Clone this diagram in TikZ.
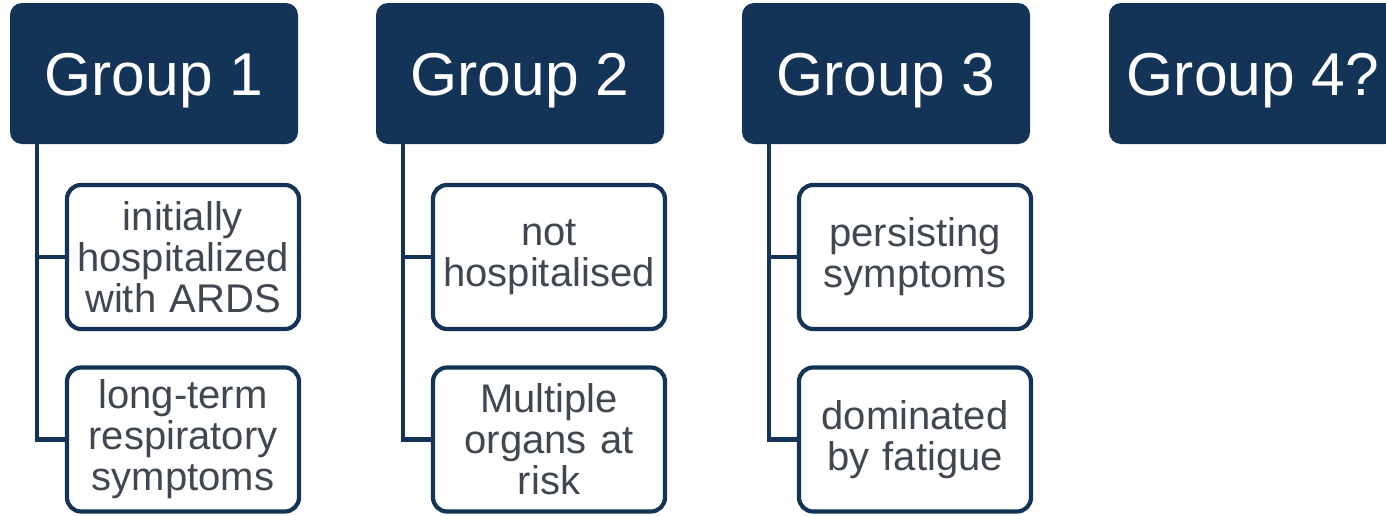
\documentclass[tikz,border=0pt]{standalone}
\usepackage{fontspec}
\setmainfont{Liberation Sans}
\definecolor{navy}{HTML}{143457}
\definecolor{txtgray}{HTML}{40474F}
\begin{document}
\begin{tikzpicture}[x=1pt,y=-1pt,
  header/.style={fill=navy,draw=none,rounded corners=12pt,minimum width=288pt,minimum height=141pt,
    text=white,font=\fontsize{60.5}{72}\selectfont,inner sep=0pt,text height=43pt,text depth=0pt},
  child/.style={draw=navy,line width=4.2pt,fill=white,rounded corners=14pt,minimum width=232pt,minimum height=144pt,
    text=txtgray,font=\fontsize{40}{41}\selectfont,align=center,inner sep=0pt,text width=230pt},
  conn/.style={draw=navy,line width=4.5pt}]
\clip (0,0) rectangle (1386,515);
\fill[white] (0,0) rectangle (1386,515);
\node[header] (g1) at (154,73.5) {Group 1};
\node[header] (g2) at (520,73.5) {Group 2};
\node[header] (g3) at (886,73.5) {Group 3};
\node[header] (g4) at (1253,73.5) {Group 4?};
\node[child] (c11) at (183,257) {initially\\hospitalized\\with ARDS};
\node[child] (c12) at (183,439.5) {long-term\\respiratory\\symptoms};
\node[child] (c21) at (549,257) {not\\hospitalised};
\node[child] (c22) at (549,439.5) {Multiple\\organs at\\risk};
\node[child] (c31) at (915,257) {persisting\\symptoms};
\node[child] (c32) at (915,439.5) {dominated\\by fatigue};
\coordinate (t1) at (37,144);
\coordinate (t2) at (403,144);
\coordinate (t3) at (769,144);
\draw[conn] (t1) |- (c12.west);
\draw[conn] (t1) |- (c11.west);
\draw[conn] (t2) |- (c22.west);
\draw[conn] (t2) |- (c21.west);
\draw[conn] (t3) |- (c32.west);
\draw[conn] (t3) |- (c31.west);
\end{tikzpicture}
\end{document}
